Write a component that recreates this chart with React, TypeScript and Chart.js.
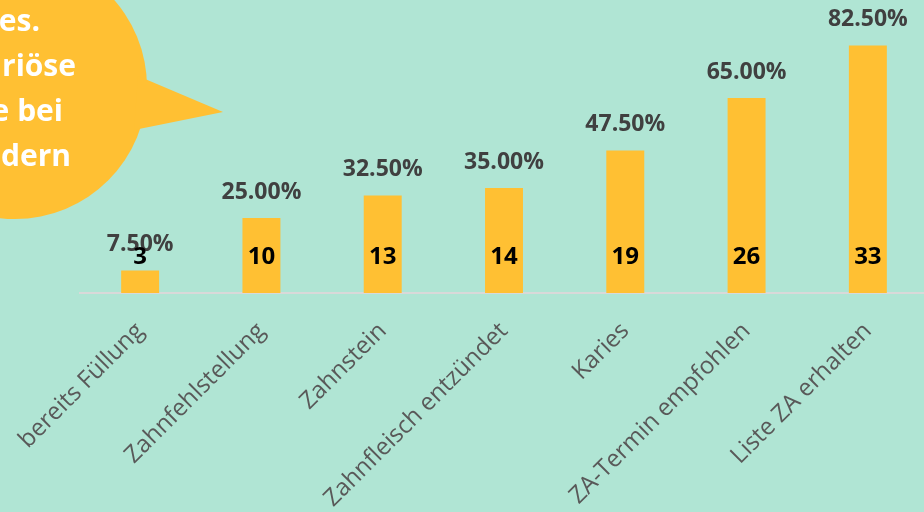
import React, { useEffect, useRef } from "react";
import { Chart, registerables } from "chart.js";

Chart.register(...registerables);

const categories = [
  "bereits Füllung",
  "Zahnfehlstellung",
  "Zahnstein",
  "Zahnfleisch entzündet",
  "Karies",
  "ZA-Termin empfohlen",
  "Liste ZA erhalten",
];
const percentValues = [7.5, 25.0, 32.5, 35.0, 47.5, 65.0, 82.5];
const countValues = [3, 10, 13, 14, 19, 26, 33];
const bubbleLines = ["es.", "riöse", "e bei", "dern"];

const BG = "#B0E5D4";
const ORANGE = "#FFC033";
const FONT = "'Open Sans', 'DejaVu Sans', sans-serif";

const labelPlugin = {
  id: "valueLabels",
  afterDatasetsDraw(chart: any) {
    const ctx = chart.ctx;
    const meta = chart.getDatasetMeta(0);
    const area = chart.chartArea;
    ctx.save();
    ctx.textAlign = "center";
    ctx.textBaseline = "middle";
    ctx.font = `bold 23px ${FONT}`;
    ctx.fillStyle = "#404040";
    meta.data.forEach((bar: any, i: number) => {
      ctx.fillText(percentValues[i].toFixed(2) + "%", bar.x, bar.y - 26);
    });
    ctx.font = `bold 24px ${FONT}`;
    ctx.fillStyle = "#000000";
    meta.data.forEach((bar: any, i: number) => {
      ctx.fillText(String(countValues[i]), bar.x, area.bottom - 36);
    });
    ctx.restore();
  },
  afterDraw(chart: any) {
    const ctx = chart.ctx;
    ctx.save();
    ctx.fillStyle = ORANGE;
    ctx.beginPath();
    ctx.arc(15, 87, 132, 0, Math.PI * 2);
    ctx.fill();
    ctx.beginPath();
    ctx.moveTo(138, 76);
    ctx.lineTo(223, 112);
    ctx.lineTo(134, 130);
    ctx.closePath();
    ctx.fill();
    ctx.fillStyle = "#FFFFFF";
    ctx.font = `bold 30px ${FONT}`;
    ctx.textAlign = "right";
    ctx.textBaseline = "alphabetic";
    const ends = [40, 76, 63, 71];
    bubbleLines.forEach((t, i) => {
      ctx.fillText(t, ends[i], 31 + i * 45);
    });
    ctx.restore();
  },
};

export default function App() {
  const ref = useRef<HTMLCanvasElement>(null);
  useEffect(() => {
    if (!ref.current) return;
    const chart = new Chart(ref.current, {
      type: "bar",
      data: {
        labels: categories,
        datasets: [
          {
            data: percentValues,
            backgroundColor: ORANGE,
            barPercentage: 0.313,
            categoryPercentage: 1,
          },
        ],
      },
      options: {
        responsive: false,
        animation: false,
        layout: { padding: { left: 79.5, right: 11.5, top: 23, bottom: 0 } },
        plugins: { legend: { display: false }, tooltip: { enabled: false } },
        scales: {
          x: {
            grid: { display: false, drawTicks: false },
            border: { display: true, color: "#D9D9D9", width: 2 },
            ticks: {
              color: "#595959",
              font: { family: FONT, size: 24 },
              maxRotation: 45,
              minRotation: 45,
              autoSkip: false,
              padding: 24,
            },
            afterFit: (s: any) => {
              s.height = 219;
              s.paddingLeft = 0;
              s.paddingRight = 0;
            },
          },
          y: { display: false, min: 0, max: 90 },
        },
      },
      plugins: [labelPlugin],
    });
    return () => chart.destroy();
  }, []);
  return (
    <div
      style={{
        position: "fixed",
        left: 0,
        top: 0,
        width: 924,
        height: 512,
        overflow: "hidden",
        background: BG,
      }}
    >
      <canvas ref={ref} width={940} height={512} style={{ width: 940, height: 512, display: "block" }} />
    </div>
  );
}
